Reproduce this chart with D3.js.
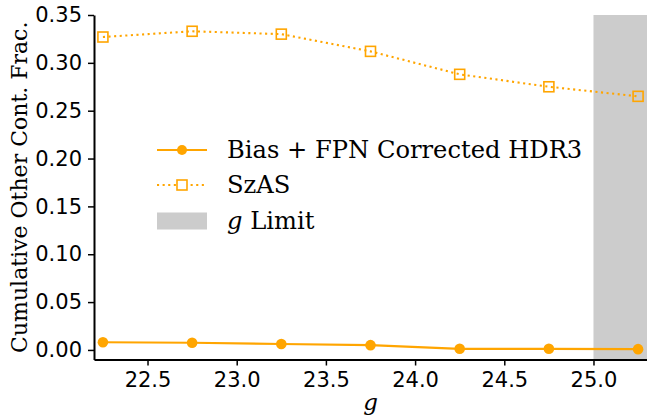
<!DOCTYPE html>
<html><head><meta charset="utf-8">
<script src="https://cdn.jsdelivr.net/npm/d3@7"></script>
<style>body{margin:0;background:#fff}svg{display:block}</style>
</head><body>
<script>
const gValues = [22.25, 22.75, 23.25, 23.75, 24.25, 24.75, 25.25];
const biasFPN = [0.008, 0.0075, 0.0062, 0.005, 0.0012, 0.0012, 0.0008];
const szas = [0.327, 0.333, 0.330, 0.312, 0.288, 0.275, 0.265];
const xTicks = [22.5, 23.0, 23.5, 24.0, 24.5, 25.0];
const yTicks = [0.00, 0.05, 0.10, 0.15, 0.20, 0.25, 0.30, 0.35];
const gLimit = [25.0, 25.3];
const legendLabels = ["Bias + FPN Corrected HDR3", "SzAS", "g Limit"];

const W = 647, H = 418;
const L = 94, R = 647, T = 15, B = 359.5;
const orange = "#FFA500";
const svg = d3.select("body").append("svg").attr("width", W).attr("height", H);

const x = d3.scaleLinear().domain([22.2, 25.3]).range([L, R]);
const y = d3.scaleLinear().domain([-0.01, 0.35]).range([B, T]);

// g limit span
svg.append("rect").attr("x", x(gLimit[0])).attr("y", T)
  .attr("width", x(gLimit[1]) - x(gLimit[0])).attr("height", B - T).attr("fill", "#cccccc");

// axes
const xAxis = svg.append("g").attr("transform", `translate(0,${B})`)
  .call(d3.axisBottom(x).tickValues(xTicks).tickFormat(d3.format(".1f")).tickSize(6).tickSizeOuter(0));
const yAxis = svg.append("g").attr("transform", `translate(${L},0)`)
  .call(d3.axisLeft(y).tickValues(yTicks).tickFormat(d3.format(".2f")).tickSize(6).tickSizeOuter(0));
[xAxis, yAxis].forEach(a => {
  a.select(".domain").attr("stroke", "#000").attr("stroke-width", 2);
  a.selectAll(".tick line").attr("stroke", "#000").attr("stroke-width", 1.5);
  a.selectAll(".tick text").attr("fill", "#000").attr("font-family", "DejaVu Sans").attr("font-size", 21);
});
xAxis.selectAll(".tick text").attr("dy", "18px");
yAxis.selectAll(".tick text").attr("dx", "-3px");

// lines
const line = d3.line().x((d, i) => x(gValues[i])).y(d => y(d));
svg.append("path").datum(szas).attr("d", line).attr("fill", "none")
  .attr("stroke", orange).attr("stroke-width", 2.1).attr("stroke-dasharray", "2.1,3.5");
svg.selectAll(".sq").data(szas).enter().append("rect")
  .attr("x", (d, i) => x(gValues[i]) - 5).attr("y", d => y(d) - 5)
  .attr("width", 10).attr("height", 10).attr("fill", "none").attr("stroke", orange).attr("stroke-width", 1.6);

svg.append("path").datum(biasFPN).attr("d", line).attr("fill", "none")
  .attr("stroke", orange).attr("stroke-width", 2.2);
svg.selectAll(".dot").data(biasFPN).enter().append("circle")
  .attr("cx", (d, i) => x(gValues[i])).attr("cy", d => y(d)).attr("r", 5.3).attr("fill", orange);

// legend
const lg = svg.append("g");
const lx0 = 157, lx1 = 207, tx = 227;
const rows = [150, 185, 221];
lg.append("line").attr("x1", lx0).attr("x2", lx1).attr("y1", rows[0]).attr("y2", rows[0])
  .attr("stroke", orange).attr("stroke-width", 2.2);
lg.append("circle").attr("cx", (lx0 + lx1) / 2).attr("cy", rows[0]).attr("r", 5).attr("fill", orange);
lg.append("line").attr("x1", lx0).attr("x2", lx1).attr("y1", rows[1]).attr("y2", rows[1])
  .attr("stroke", orange).attr("stroke-width", 2.1).attr("stroke-dasharray", "2.1,3.5");
lg.append("rect").attr("x", (lx0 + lx1) / 2 - 5).attr("y", rows[1] - 5).attr("width", 10).attr("height", 10)
  .attr("fill", "#fff").attr("stroke", orange).attr("stroke-width", 1.6);
lg.append("rect").attr("x", lx0).attr("y", rows[2] - 8.5).attr("width", lx1 - lx0).attr("height", 17).attr("fill", "#cccccc");

const ltext = (i) => lg.append("text").attr("x", tx).attr("y", rows[i]).attr("dy", "0.35em")
  .attr("font-family", "DejaVu Serif").attr("font-size", 24.2).attr("fill", "#000");
ltext(0).text(legendLabels[0]);
ltext(1).text(legendLabels[1]);
const t3 = ltext(2);
t3.append("tspan").attr("font-style", "italic").text(legendLabels[2].split(" ")[0]);
t3.append("tspan").text(" " + legendLabels[2].split(" ").slice(1).join(" "));

// axis labels
svg.append("text").attr("x", (L + R) / 2).attr("y", 410).attr("text-anchor", "middle")
  .attr("font-family", "DejaVu Serif").attr("font-style", "italic").attr("font-size", 23).text("g");
svg.append("text").attr("transform", `translate(27,${(T + B) / 2}) rotate(-90)`).attr("text-anchor", "middle")
  .attr("font-family", "DejaVu Serif").attr("font-size", 22).text("Cumulative Other Cont. Frac.");
</script>
</body></html>
